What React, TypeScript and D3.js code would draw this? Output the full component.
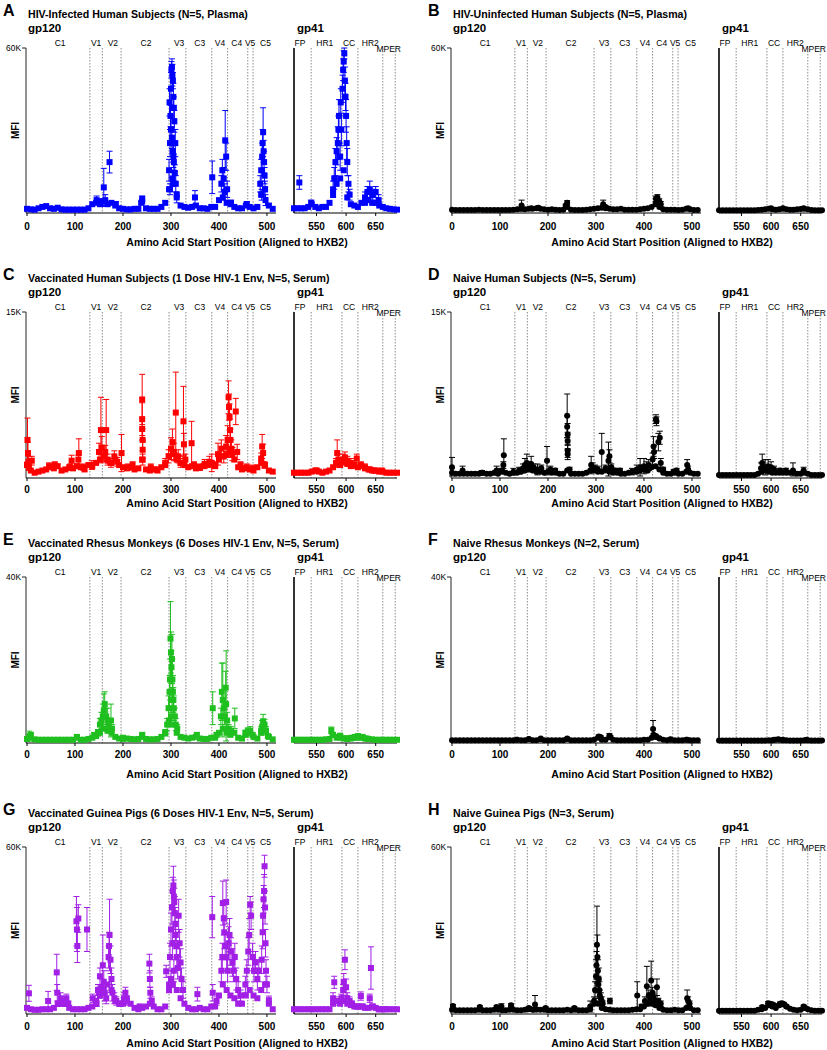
import React from 'react';
import * as d3 from 'd3';

// ---------- shared categories ----------
const POS120 = [0, 8, 16, 24, 32, 40, 48, 56, 64, 72, 80, 88, 96, 104, 112, 120, 128, 136, 144, 152, 160, 168, 176, 184, 192, 200, 208, 216, 224, 232, 240, 248, 256, 264, 272, 280, 288, 296, 304, 312, 320, 328, 336, 344, 352, 360, 368, 376, 384, 392, 400, 408, 416, 424, 432, 440, 448, 456, 464, 472, 480, 488, 496, 504, 512];
const POS41 = [512, 518, 524, 530, 536, 542, 548, 554, 560, 566, 572, 578, 584, 590, 596, 602, 608, 614, 620, 626, 632, 638, 644, 650, 656, 662, 668, 674, 680, 686];
const LINES120 = [131, 157, 196, 296, 331, 385, 418, 460, 471];
const LINES41 = [541, 593, 620, 662, 683];
const LABELS120 = ['C1', 'V1', 'V2', 'C2', 'V3', 'C3', 'V4', 'C4', 'V5', 'C5'];
const LABELPOS120 = [69, 144, 179, 248, 317, 360, 402, 437, 465, 497];
const LABELS41 = ['FP', 'HR1', 'CC', 'HR2', 'MPER'];
const LABELPOS41 = [522, 564, 605, 641, 672];
const TICKS120 = [0, 100, 200, 300, 400, 500];
const TICKS41 = [550, 600, 650];

// ---------- A: HIV-infected (K MFI) ----------
const aBase120 = [0.8, 0.6, 0.5, 1.0, 1.5, 1.8, 1.0, 0.8, 1.2, 0.6,
  0.5, 0.5, 0.5, 0.5, 0.5, 0.5, 1.0, 2.5, 3.0, 2.5,
  3.5, 2.5, 3.0, 2.0, 1.0, 0.8, 0.6, 0.6, 0.8, 0.8,
  3.5, 1.0, 0.8, 0.8, 0.8, 1.5, 3.0, 8.0, 10.0, 6.0,
  2.0, 1.5, 1.2, 1.5, 2.0, 1.0, 1.0, 0.8, 1.5, 1.5,
  4.0, 5.0, 3.0, 2.5, 1.5, 1.0, 1.0, 2.0, 1.5, 1.0,
  1.5, 6.0, 8.0, 2.0, 0.8];
const aBase41 = [1.0, 1.0, 1.0, 1.0, 1.5, 2.5, 1.5, 1.0, 1.5, 1.5,
  3.0, 6.0, 10.0, 12.0, 15.0, 5.0, 2.5, 2.0, 1.5, 3.0,
  3.0, 4.0, 3.0, 3.0, 2.0, 1.5, 1.0, 0.8, 0.6, 0.5];
const aPeak120 = [[145, 4, 1.5], [150, 3.5, 1], [160, 8.7, 7], [163, 4, 2], [172, 18, 4], [185, 2.5, 1], [240, 4.5, 1], [238, 3, 0.5],
  [296, 15, 4], [298, 25, 5], [299, 35, 4], [300, 45, 6], [301, 52, 3], [302, 53, 3], [303, 50, 4], [304, 48, 3], [305, 42, 5], [306, 38, 4], [307, 33, 4], [300, 30, 5], [302, 27, 4], [304, 22, 4], [306, 18, 3], [308, 14, 3], [310, 10, 3], [298, 8, 2], [303, 12, 3], [305, 20, 4], [309, 25, 5], [297, 40, 5], [312, 5, 2],
  [350, 5, 2.5], [386, 12.4, 6], [405, 10, 3], [407, 15, 4], [410, 12, 4], [413, 26, 11], [415, 20, 5], [417, 8, 3], [412, 7, 3], [425, 3, 1], [458, 2.5, 1],
  [486, 10, 3], [488, 15, 4], [490, 20, 5], [491, 25, 5], [492, 29, 9], [493, 22, 4], [494, 18, 4], [495, 13, 3], [496, 8, 3], [489, 6, 2], [497, 4, 2]];
const aPeak41 = [[521, 10.5, 2.5], [541, 3, 1], [578, 8, 3], [580, 12, 4], [582, 18, 5], [584, 22, 5], [586, 25, 6], [587, 30, 5], [588, 35, 6], [590, 20, 5], [591, 40, 5], [592, 30, 6], [594, 45, 5], [595, 52, 4], [596, 55, 4], [597, 58, 2], [598, 48, 5], [599, 42, 5], [600, 35, 6], [601, 25, 6], [602, 18, 5], [604, 10, 3], [606, 6, 2], [632, 5, 2], [636, 7, 2], [640, 8, 3], [645, 6, 2], [650, 7, 2], [655, 4, 2]];

// ---------- B: HIV-uninfected ----------
const bBase120 = [0.5, 0.4, 0.4, 0.4, 0.4, 0.4, 0.4, 0.5, 0.4, 0.4,
  0.4, 0.4, 0.4, 0.4, 0.4, 0.4, 0.5, 0.6, 0.8, 0.6,
  0.8, 0.8, 1.0, 0.8, 0.6, 0.5, 0.6, 0.5, 0.4, 0.5,
  1.5, 0.5, 0.4, 0.4, 0.4, 0.5, 0.6, 0.8, 1.0, 1.2,
  1.0, 0.8, 0.6, 0.6, 0.8, 0.5, 0.5, 0.5, 0.5, 0.6,
  0.8, 1.0, 1.5, 2.5, 1.5, 0.6, 0.5, 0.5, 0.5, 0.4,
  0.5, 0.8, 0.6, 0.4, 0.4];
const bBase41 = [0.3, 0.3, 0.3, 0.3, 0.3, 0.3, 0.3, 0.3, 0.3, 0.3,
  0.3, 0.4, 0.5, 0.6, 0.8, 0.6, 0.5, 0.6, 0.8, 0.6,
  0.5, 0.5, 0.6, 0.7, 0.8, 0.6, 0.4, 0.3, 0.3, 0.3];
const bPeak120 = [[145, 2, 2], [165, 1, 0.5], [180, 1.2, 0.5], [240, 3, 0.8], [237, 2, 0.5], [315, 2.5, 1.5], [320, 1.5, 0.5], [425, 4.5, 1], [428, 5, 1], [432, 3.5, 1], [435, 2.5, 1], [492, 1, 0.3]];
const bPeak41 = [[600, 1, 0.3], [620, 1, 0.3], [655, 1, 0.3]];

// ---------- C: vaccinated humans ----------
const cBase120 = [1.0, 0.5, 0.3, 0.4, 0.5, 0.6, 0.8, 0.7, 0.9, 0.5,
  0.6, 0.8, 0.7, 0.9, 0.8, 0.6, 1.0, 0.9, 1.2, 1.5,
  1.8, 1.4, 1.2, 1.5, 1.0, 0.8, 0.7, 0.8, 0.6, 0.7,
  1.5, 0.6, 0.5, 0.6, 0.5, 0.8, 1.0, 1.8, 2.0, 1.5,
  1.2, 1.0, 0.8, 0.9, 0.7, 0.8, 0.9, 1.0, 1.1, 0.9,
  1.5, 1.8, 2.0, 2.2, 1.5, 0.8, 0.6, 0.7, 0.6, 0.5,
  0.8, 1.2, 1.0, 0.5, 0.4];
const cBase41 = [0.3, 0.3, 0.3, 0.3, 0.3, 0.4, 0.5, 0.4, 0.3, 0.4,
  0.5, 0.8, 1.2, 1.0, 1.3, 1.1, 0.9, 1.0, 0.8, 0.9,
  0.7, 0.6, 0.5, 0.5, 0.4, 0.4, 0.3, 0.3, 0.3, 0.3];
const cPeak120 = [[1, 3.3, 2], [2, 2.1, 1], [3, 1.3, 0.5], [4, 0.8, 0.3], [10, 1.4, 0.4], [46, 0.9, 0.3], [58, 1.0, 0.3], [93, 1.4, 0.5], [90, 0.8, 0.3], [108, 2.1, 1.3], [107, 1.5, 0.4], [118, 0.8, 0.3],
  [135, 1.0, 0.4], [150, 2.2, 0.8], [154, 4.2, 3.0], [156, 2.6, 1], [160, 1.8, 0.5], [163, 2.2, 0.6], [165, 4.2, 2.8], [168, 1.5, 0.5], [175, 1.2, 0.4], [182, 1.8, 0.5], [188, 1.3, 0.4], [197, 2.1, 1.7], [210, 0.8, 0.3], [220, 1.0, 0.3],
  [240, 7.0, 2.3], [240, 5.2, 1.5], [240, 4.3, 1], [241, 3.3, 1], [241, 2.4, 0.8], [241, 1.5, 0.5], [258, 0.8, 0.3], [270, 0.6, 0.2],
  [288, 1.2, 0.4], [295, 1.8, 0.6], [300, 2.5, 1], [303, 3.1, 1.2], [306, 2.2, 0.8], [310, 5.8, 3.7], [315, 1.8, 0.6], [320, 1.2, 0.4], [326, 5.0, 3.2], [327, 2.9, 1], [330, 1.5, 0.5], [343, 3.0, 2], [348, 1.0, 0.3], [360, 0.8, 0.3], [370, 1.1, 0.4], [380, 1.3, 0.5], [385, 1.2, 0.8], [392, 1.0, 0.3],
  [398, 2.0, 1], [405, 2.5, 0.8], [410, 1.8, 0.6], [415, 2.7, 1], [418, 3.3, 1.3], [420, 7.2, 1.5], [421, 6.3, 1.2], [422, 5.4, 1.2], [423, 4.2, 1], [424, 3.3, 1], [426, 2.5, 0.8], [428, 2.0, 0.6], [435, 5.9, 1.2], [438, 2.2, 0.7], [445, 1.0, 0.3], [458, 0.8, 0.3], [470, 0.7, 0.3],
  [488, 1.6, 0.5], [490, 2.7, 1.1], [492, 2.1, 0.8], [495, 1.0, 0.3]];
const cPeak41 = [[550, 0.5, 0.2], [583, 1.2, 0.4], [585, 2.1, 1.2], [587, 1.5, 0.5], [590, 1.3, 0.4], [595, 1.5, 0.5], [598, 1.7, 0.5], [602, 1.4, 0.4], [608, 1.2, 0.4], [612, 1.0, 0.3], [618, 1.6, 0.4], [625, 1.0, 0.3], [632, 0.8, 0.3], [640, 0.6, 0.2], [648, 0.5, 0.2], [660, 0.5, 0.2]];

// ---------- D: naive humans ----------
const dBase120 = [0.3, 0.2, 0.2, 0.2, 0.2, 0.2, 0.2, 0.2, 0.3, 0.2,
  0.2, 0.3, 0.2, 0.4, 0.3, 0.2, 0.3, 0.3, 0.4, 0.5,
  0.6, 0.5, 0.4, 0.4, 0.3, 0.4, 0.3, 0.3, 0.2, 0.2,
  0.5, 0.2, 0.2, 0.2, 0.2, 0.3, 0.5, 0.5, 0.4, 0.4,
  0.5, 0.4, 0.3, 0.3, 0.2, 0.2, 0.3, 0.4, 0.4, 0.5,
  0.6, 0.5, 0.8, 0.9, 0.6, 0.3, 0.2, 0.2, 0.3, 0.2,
  0.2, 0.4, 0.3, 0.2, 0.2];
const dBase41 = [0.1, 0.1, 0.1, 0.1, 0.1, 0.1, 0.1, 0.1, 0.1, 0.1,
  0.1, 0.2, 0.4, 0.5, 0.4, 0.3, 0.3, 0.3, 0.3, 0.3,
  0.3, 0.3, 0.2, 0.2, 0.3, 0.2, 0.1, 0.1, 0.1, 0.1];
const dPeak120 = [[0, 0.8, 0.9], [22, 0.5, 0.4], [62, 0.3, 0.2], [93, 0.5, 0.4], [108, 1.9, 1.5], [107, 1.0, 0.3], [104, 0.5, 0.2], [128, 0.4, 0.3], [140, 0.5, 0.3], [148, 0.7, 0.4], [152, 1.0, 0.6], [156, 1.2, 0.8], [160, 0.9, 0.4], [165, 1.1, 0.7], [170, 0.8, 0.3], [178, 0.6, 0.5], [186, 0.7, 0.3], [198, 1.4, 1.3], [205, 0.6, 0.3], [215, 0.5, 0.2],
  [240, 5.5, 2], [240, 4.5, 1], [241, 3.8, 1], [241, 3.2, 0.8], [241, 2.3, 0.6], [241, 2.0, 0.5], [245, 0.6, 0.2],
  [290, 1.0, 0.8], [293, 0.8, 0.4], [298, 0.7, 0.3], [304, 0.6, 0.3], [312, 2.2, 1.7], [320, 0.7, 0.3], [326, 1.4, 1.7], [328, 1.8, 0.6], [332, 0.8, 0.3], [340, 0.5, 0.2], [350, 0.5, 0.2], [375, 0.4, 0.3], [385, 0.6, 0.4], [392, 0.8, 0.8], [400, 0.9, 0.7], [405, 0.8, 0.5], [410, 1.0, 0.5],
  [418, 1.5, 0.6], [420, 2.7, 0.9], [421, 2.2, 0.6], [425, 5.2, 0.4], [426, 5.0, 0.4], [430, 3.1, 0.8], [433, 3.5, 0.6], [435, 1.2, 0.4], [440, 0.6, 0.2], [462, 0.4, 0.2], [468, 0.5, 0.2], [490, 1.0, 0.5], [492, 0.6, 0.3]];
const dPeak41 = [[583, 0.7, 0.5], [585, 1.2, 0.8], [590, 0.8, 0.7], [595, 0.9, 0.6], [600, 0.8, 0.5], [605, 0.6, 0.3], [615, 0.5, 0.2], [625, 0.5, 0.2], [637, 0.5, 0.7], [655, 0.5, 0.3]];

// ---------- E: vaccinated rhesus ----------
const eBase120 = [0.5, 0.8, 0.4, 0.3, 0.3, 0.3, 0.3, 0.3, 0.3, 0.3,
  0.3, 0.3, 0.3, 0.8, 0.3, 0.3, 0.5, 0.8, 1.2, 2.0,
  3.0, 2.5, 2.0, 1.0, 0.6, 0.5, 0.6, 0.5, 0.4, 0.5,
  1.0, 0.5, 0.4, 0.4, 0.5, 1.0, 2.0, 5.0, 4.0, 2.0,
  1.0, 0.8, 0.6, 0.8, 1.0, 0.6, 0.5, 0.5, 0.8, 0.8,
  2.0, 3.0, 2.0, 1.5, 2.0, 0.8, 0.6, 1.5, 2.0, 1.0,
  0.6, 2.0, 2.5, 1.0, 0.4];
const eBase41 = [0.3, 0.3, 0.3, 0.3, 0.3, 0.3, 0.3, 0.3, 0.3, 0.4,
  0.5, 1.5, 0.8, 0.8, 0.6, 0.5, 0.6, 0.8, 0.8, 0.8,
  0.6, 0.5, 0.4, 0.3, 0.3, 0.3, 0.3, 0.3, 0.3, 0.3];
const ePeak120 = [[5, 1.2, 1.2], [8, 1.5, 0.5], [104, 1.0, 0.5], [140, 1.5, 0.5], [148, 2, 0.8], [152, 4, 1.5], [155, 5, 2], [158, 6, 3], [160, 7.5, 4], [162, 9, 3], [165, 6, 2], [168, 5, 3], [170, 4, 1.5], [175, 5, 4], [177, 3, 1], [200, 0.8, 0.3], [240, 1.5, 0.5],
  [288, 2, 0.8], [292, 4, 1.5], [295, 8, 3], [297, 12, 4], [298, 15, 5], [299, 25, 9], [300, 21.6, 5], [301, 18, 4], [302, 20, 6], [303, 15, 5], [304, 12, 4], [305, 10, 3], [306, 8, 3], [308, 6, 2], [310, 4, 1.5], [313, 3, 1], [300, 6, 2], [302, 10, 3],
  [354, 1.5, 0.5], [387, 8, 4], [395, 1.5, 0.5], [404, 6, 2], [406, 12, 7], [408, 10, 9], [410, 8, 3], [412, 6, 2], [414, 13, 4], [415, 9, 13], [417, 5, 2], [420, 3, 1], [425, 2.5, 1], [433, 5.5, 2.5], [455, 2, 0.6], [460, 2.4, 0.8], [465, 2.5, 1], [470, 1.5, 0.5],
  [488, 2.5, 1], [490, 3.5, 1.5], [492, 4.8, 1.7], [495, 4, 1.3], [498, 2.5, 1], [502, 1.2, 0.4]];
const ePeak41 = [[575, 2.6, 0.8], [577, 1.5, 0.5], [585, 1, 0.4], [590, 1.3, 0.4], [600, 0.7, 0.3], [610, 0.8, 0.3], [615, 1, 0.3], [620, 1.2, 0.4], [628, 1, 0.3], [635, 0.6, 0.2]];

// ---------- F: naive rhesus ----------
const fBase120 = [0.2, 0.2, 0.2, 0.2, 0.2, 0.2, 0.2, 0.2, 0.2, 0.2,
  0.2, 0.2, 0.2, 0.2, 0.2, 0.2, 0.2, 0.3, 0.2, 0.2,
  0.4, 0.2, 0.2, 0.4, 0.2, 0.2, 0.2, 0.2, 0.2, 0.2,
  0.5, 0.2, 0.2, 0.2, 0.2, 0.2, 0.2, 0.3, 0.8, 0.3,
  0.3, 0.9, 0.3, 0.2, 0.2, 0.2, 0.2, 0.2, 0.2, 0.2,
  0.3, 0.3, 0.8, 1.0, 0.6, 0.3, 0.2, 0.3, 0.2, 0.2,
  0.2, 0.3, 0.2, 0.2, 0.2];
const fBase41 = [0.1, 0.1, 0.1, 0.1, 0.1, 0.1, 0.1, 0.1, 0.1, 0.1,
  0.1, 0.1, 0.1, 0.1, 0.2, 0.2, 0.3, 0.3, 0.2, 0.2,
  0.1, 0.1, 0.1, 0.1, 0.2, 0.2, 0.1, 0.1, 0.1, 0.1];
const fPeak120 = [[135, 0.3, 0.2], [160, 0.5, 0.2], [185, 0.6, 0.2], [240, 0.6, 0.2], [306, 1.1, 0.4], [310, 0.9, 0.3], [328, 1.3, 0.5], [330, 1.0, 0.3], [419, 2.9, 2.1], [420, 1.5, 0.3], [425, 1.2, 0.3], [432, 0.7, 0.2], [455, 0.4, 0.2], [490, 0.3, 0.1]];
const fPeak41 = [[605, 0.3, 0.1], [612, 0.4, 0.1], [620, 0.3, 0.1], [660, 0.3, 0.1]];

// ---------- G: vaccinated guinea pigs ----------
const gBase120 = [1.5, 1.0, 0.8, 0.8, 1.0, 1.0, 1.0, 1.5, 3.0, 4.0,
  3.0, 1.5, 1.0, 1.0, 1.0, 1.0, 1.5, 2.0, 4.0, 6.0,
  8.0, 10.0, 8.0, 4.0, 3.0, 3.0, 5.0, 3.0, 1.5, 1.0,
  1.5, 2.0, 3.0, 2.0, 1.0, 1.0, 2.0, 8.0, 10.0, 8.0,
  5.0, 3.0, 1.5, 1.0, 1.0, 1.5, 1.0, 1.0, 2.0, 2.0,
  6.0, 10.0, 8.0, 6.0, 5.0, 3.0, 3.0, 6.0, 8.0, 6.0,
  5.0, 8.0, 10.0, 3.0, 1.0];
const gBase41 = [1.0, 1.0, 1.0, 1.0, 1.0, 1.0, 1.0, 1.0, 1.0, 1.0,
  1.0, 3.0, 4.0, 3.0, 4.0, 3.0, 2.5, 2.0, 2.0, 2.0,
  1.5, 1.5, 2.0, 1.5, 1.0, 1.0, 1.0, 1.0, 1.0, 1.0];
const gPeak120 = [[4, 6.8, 2.9], [44, 4, 3.5], [62, 14.4, 6.6], [63, 7, 3], [66, 3, 1], [70, 5, 2], [74, 4, 1.5], [78, 3, 1], [82, 5, 1.5], [86, 3, 1],
  [103, 33, 9], [104, 30, 8], [105, 24, 6], [107, 34, 5], [125, 30, 8], [137, 5, 1.5], [145, 3, 1], [148, 8, 2], [150, 7, 2], [152, 13, 3], [155, 9, 3], [158, 17, 11], [160, 11, 4], [162, 7, 3], [165, 5, 2], [170, 20, 4], [171, 24, 5], [172, 28, 13], [174, 19, 5], [176, 12, 4], [178, 7, 3], [182, 5, 2], [186, 4, 1.5], [195, 3, 1], [202, 5, 2], [205, 7, 2], [208, 4, 1.5], [235, 2, 0.8],
  [255, 17.6, 3.4], [256, 12, 3], [257, 7, 2], [260, 4, 1.5], [290, 14.8, 2.2],
  [296, 10, 3], [298, 20, 5], [300, 30, 6], [302, 38, 6], [304, 44, 5], [305, 46, 7], [306, 42, 6], [307, 40, 5], [308, 36, 6], [309, 32, 6], [310, 28, 5], [311, 24, 5], [312, 20, 4], [314, 16, 4], [316, 35, 6], [318, 25, 5], [320, 18, 5], [322, 12, 4], [325, 8, 3], [303, 25, 5], [306, 15, 4], [300, 12, 3],
  [355, 6.5, 2.5], [386, 34.5, 7.5], [387, 7, 3], [395, 4, 1.5],
  [405, 15, 4], [407, 20, 5], [408, 39.6, 8], [410, 34, 6], [411, 29, 6], [413, 24, 5], [415, 40, 8], [416, 20, 5], [418, 15, 4], [420, 25, 6], [422, 28, 6], [425, 22, 5], [428, 18, 5], [430, 15, 4], [433, 20, 5], [436, 12, 4], [440, 8, 3], [445, 6, 2],
  [455, 10, 3], [458, 15, 4], [461, 22, 5], [463, 28, 6], [465, 39, 3], [467, 35, 5], [470, 20, 5], [473, 15, 4], [476, 18, 4], [480, 12, 4], [483, 15, 4],
  [489, 19, 5], [491, 29, 6], [492, 35, 6], [493, 41, 5], [494, 44, 6], [495, 53, 4], [496, 38, 6], [497, 25, 5], [498, 15, 4], [500, 10, 3], [504, 4.3, 1.5]];
const gPeak41 = [[578, 5, 2], [580, 10.8, 2.2], [582, 4, 1.5], [592, 5, 1.5], [595, 8, 2], [596, 11, 3], [598, 19, 3.6], [600, 9, 3], [602, 5, 2], [606, 4, 1.5], [610, 3, 1], [618, 2, 0.8], [625, 5.8, 1.5], [628, 2, 0.8], [640, 5, 1.5], [642, 16, 7.7], [645, 2, 0.8], [655, 1, 0.4], [665, 1, 0.4]];

// ---------- H: naive guinea pigs ----------
const hBase120 = [0.8, 0.6, 0.6, 0.6, 0.6, 0.6, 0.6, 0.8, 0.6, 0.6,
  0.6, 0.8, 0.8, 0.6, 0.6, 0.8, 0.8, 0.6, 0.6, 0.8,
  1.0, 0.8, 1.0, 0.8, 0.8, 0.6, 0.6, 0.6, 0.6, 0.6,
  0.8, 0.6, 0.8, 0.6, 0.6, 0.6, 1.0, 3.0, 3.0, 1.5,
  1.0, 0.8, 0.6, 0.6, 0.6, 0.6, 0.6, 0.8, 1.0, 1.0,
  2.0, 3.0, 3.0, 2.5, 1.5, 0.8, 0.6, 0.6, 0.8, 0.6,
  0.6, 1.5, 1.5, 0.6, 0.6];
const hBase41 = [0.5, 0.5, 0.5, 0.5, 0.5, 0.5, 0.5, 0.5, 0.5, 0.5,
  0.5, 0.8, 1.0, 1.5, 2.5, 2.0, 1.5, 2.5, 2.8, 2.0,
  1.2, 0.8, 0.6, 0.8, 1.5, 1.0, 0.6, 0.5, 0.5, 0.5];
const hPeak120 = [[2, 2.2, 0.5], [58, 1.8, 0.5], [93, 1.8, 0.6], [103, 2, 1], [123, 2.5, 0.5], [160, 1.5, 0.5], [173, 2.7, 3.3], [195, 1.5, 0.4], [255, 1.5, 0.4], [288, 2, 2],
  [296, 4, 1.5], [298, 8, 3], [300, 13, 6], [301, 17, 5], [302, 24.5, 14], [303, 20, 8], [304, 15, 4], [305, 10, 3], [306, 12, 4], [307, 8, 3], [308, 6, 2], [310, 5, 2], [312, 4, 1.5], [314, 3, 1],
  [329, 4, 1], [386, 6, 5], [395, 2, 0.8], [402, 4, 1.5], [406, 9.4, 7.2], [410, 6, 2], [413, 5, 2], [415, 11.5, 7], [418, 7, 2], [420, 5, 1.5], [423, 4, 1.5], [427, 9, 3], [430, 4, 1], [435, 3, 1],
  [490, 5, 3], [492, 4, 1.5], [495, 3, 1]];
const hPeak41 = [[585, 1.8, 0.5], [595, 3.2, 0.6], [598, 3, 0.6], [602, 2.8, 0.6], [605, 2.5, 0.5], [615, 3, 0.6], [618, 3.2, 0.6], [622, 2.8, 0.5], [626, 2, 0.5], [655, 2, 0.5], [658, 1.5, 0.4]];

const PANEL_LETTERS = ['A', 'B', 'C', 'D', 'E', 'F', 'G', 'H'];
const PANEL_TITLES = [
  'HIV-Infected Human Subjects (N=5, Plasma)',
  'HIV-Uninfected Human Subjects (N=5, Plasma)',
  'Vaccinated Human Subjects (1 Dose HIV-1 Env, N=5, Serum)',
  'Naive Human Subjects (N=5, Serum)',
  'Vaccinated Rhesus Monkeys (6 Doses HIV-1 Env, N=5, Serum)',
  'Naive Rhesus Monkeys (N=2, Serum)',
  'Vaccinated Guinea Pigs (6 Doses HIV-1 Env, N=5, Serum)',
  'Naive Guinea Pigs (N=3, Serum)',
];
const PANEL_MAX = [60, 60, 15, 15, 40, 40, 60, 60];
const PANEL_COLORS = ['#0000ff', '#000000', '#ff0000', '#000000', '#1fbf1f', '#000000', '#a21fe6', '#000000'];
const BASE120 = [aBase120, bBase120, cBase120, dBase120, eBase120, fBase120, gBase120, hBase120];
const BASE41 = [aBase41, bBase41, cBase41, dBase41, eBase41, fBase41, gBase41, hBase41];
const PEAK120 = [aPeak120, bPeak120, cPeak120, dPeak120, ePeak120, fPeak120, gPeak120, hPeak120];
const PEAK41 = [aPeak41, bPeak41, cPeak41, dPeak41, ePeak41, fPeak41, gPeak41, hPeak41];

// ---------- layout ----------
const ROW_TOP = [48, 312, 577, 847];
const ROW_AXIS = [213, 478, 743, 1014];
const ROW_TICK = [226, 489, 754, 1026];
const ROW_XTITLE = [242, 503, 774, 1043];
const COL_X = [0, 425];
const FONT = '"Liberation Sans", Arial, Helvetica, sans-serif';

type Pt = { x: number; v: number; e: number };

function Points({ pts, xs, ys, color, circle }: { pts: Pt[]; xs: any; ys: any; color: string; circle: boolean }) {
  const s = 6;
  return (
    <g>
      {pts.map((p, i) => {
        const cx = xs(p.x);
        const cy = ys(p.v);
        const hi = ys(p.v + p.e);
        const lo = ys(Math.max(0, p.v - p.e));
        return (
          <g key={i}>
            {p.e > 0 && (
              <g stroke={color} strokeWidth={1}>
                <line x1={cx} x2={cx} y1={hi} y2={lo} />
                <line x1={cx - 3} x2={cx + 3} y1={hi} y2={hi} />
                <line x1={cx - 3} x2={cx + 3} y1={lo} y2={lo} />
              </g>
            )}
            {circle ? (
              <circle cx={cx} cy={cy} r={s / 2} fill={color} />
            ) : (
              <rect x={cx - s / 2} y={cy - s / 2} width={s} height={s} fill={color} />
            )}
          </g>
        );
      })}
    </g>
  );
}

function Panel({ idx }: { idx: number }) {
  const col = idx % 2;
  const row = Math.floor(idx / 2);
  const cx = COL_X[col];
  const top = ROW_TOP[row];
  const axis = ROW_AXIS[row];
  const max = PANEL_MAX[idx];
  const color = PANEL_COLORS[idx];
  const circle = col === 1;

  const x120 = d3.scaleLinear().domain([0, 518]).range([cx + 27, cx + 275.6]);
  const x41 = d3.scaleLinear().domain([512, 686]).range([cx + 294, cx + 397]);
  const y = d3.scaleLinear().domain([0, max]).range([axis - 2, top]);

  const pts120: Pt[] = POS120.map((p, i) => ({ x: p, v: BASE120[idx][i], e: 0 }))
    .concat(PEAK120[idx].map((d) => ({ x: d[0], v: d[1], e: d[2] })));
  const pts41: Pt[] = POS41.map((p, i) => ({ x: p, v: BASE41[idx][i], e: 0 }))
    .concat(PEAK41[idx].map((d) => ({ x: d[0], v: d[1], e: d[2] })));

  const dotted = { stroke: '#6e6e6e', strokeWidth: 0.8, strokeDasharray: '1.5,1.5' };

  return (
    <g fontFamily={FONT}>
      {/* headings */}
      <text x={cx + 3} y={top - 38} fontSize={16} fontWeight="bold" dominantBaseline="central">{PANEL_LETTERS[idx]}</text>
      <text x={cx + 28} y={top - 34} fontSize={10.6} fontWeight="bold" dominantBaseline="central">{PANEL_TITLES[idx]}</text>
      <text x={cx + 28} y={top - 20} fontSize={11.5} fontWeight="bold" dominantBaseline="central">gp120</text>
      <text x={cx + 297} y={top - 20} fontSize={11.5} fontWeight="bold" dominantBaseline="central">gp41</text>
      {LABELS120.map((l, i) => (
        <text key={l} x={x120(LABELPOS120[i])} y={top - 5} fontSize={8.5} textAnchor="middle" dominantBaseline="central">{l}</text>
      ))}
      {LABELS41.map((l, i) => (
        <text key={l} x={x41(LABELPOS41[i])} y={l === 'MPER' ? top + 1 : top - 5} fontSize={8.5} textAnchor="middle" dominantBaseline="central">{l}</text>
      ))}

      {/* region lines */}
      {LINES120.map((v) => (
        <line key={v} x1={x120(v)} x2={x120(v)} y1={top} y2={axis} {...dotted} />
      ))}
      {LINES41.map((v) => (
        <line key={v} x1={x41(v)} x2={x41(v)} y1={top} y2={axis} {...dotted} />
      ))}

      {/* y axis */}
      <line x1={cx + 26} x2={cx + 26} y1={top} y2={axis} stroke="#222" strokeWidth={1} />
      <line x1={cx + 22} x2={cx + 26} y1={top} y2={top} stroke="#222" strokeWidth={1} />
      <text x={cx + 21} y={top} fontSize={8.4} textAnchor="end" dominantBaseline="central">{`${max}K`}</text>
      <text transform={`translate(${cx + 15},${(top + axis) / 2}) rotate(-90)`} fontSize={10} fontWeight="bold" textAnchor="middle" dominantBaseline="central">MFI</text>

      {/* gp41 left axis */}
      <line x1={cx + 294} x2={cx + 294} y1={top} y2={axis} stroke="#000" strokeWidth={1.6} />

      {/* x axes */}
      <line x1={cx + 26} x2={cx + 276} y1={axis} y2={axis} stroke="#000" strokeWidth={1.2} />
      <line x1={cx + 294} x2={cx + 397} y1={axis} y2={axis} stroke="#000" strokeWidth={1.2} />
      {TICKS120.map((t) => (
        <g key={t}>
          <line x1={x120(t)} x2={x120(t)} y1={axis} y2={axis + 3} stroke="#000" />
          <text x={x120(t)} y={ROW_TICK[row]} fontSize={10} fontWeight="bold" textAnchor="middle" dominantBaseline="central">{t}</text>
        </g>
      ))}
      {TICKS41.map((t) => (
        <g key={t}>
          <line x1={x41(t)} x2={x41(t)} y1={axis} y2={axis + 3} stroke="#000" />
          <text x={x41(t)} y={ROW_TICK[row]} fontSize={10} fontWeight="bold" textAnchor="middle" dominantBaseline="central">{t}</text>
        </g>
      ))}
      <text x={cx + 237} y={ROW_XTITLE[row]} fontSize={10.5} fontWeight="bold" textAnchor="middle" dominantBaseline="central">Amino Acid Start Position (Aligned to HXB2)</text>

      {/* data */}
      <Points pts={pts120} xs={x120} ys={y} color={color} circle={circle} />
      <Points pts={pts41} xs={x41} ys={y} color={color} circle={circle} />
    </g>
  );
}

export default function App() {
  return (
    <svg width={827} height={1050} style={{ position: 'absolute', left: 0, top: 0, background: '#fff' }}>
      <rect width={827} height={1050} fill="#fff" />
      {PANEL_LETTERS.map((_, i) => (
        <Panel key={i} idx={i} />
      ))}
    </svg>
  );
}
